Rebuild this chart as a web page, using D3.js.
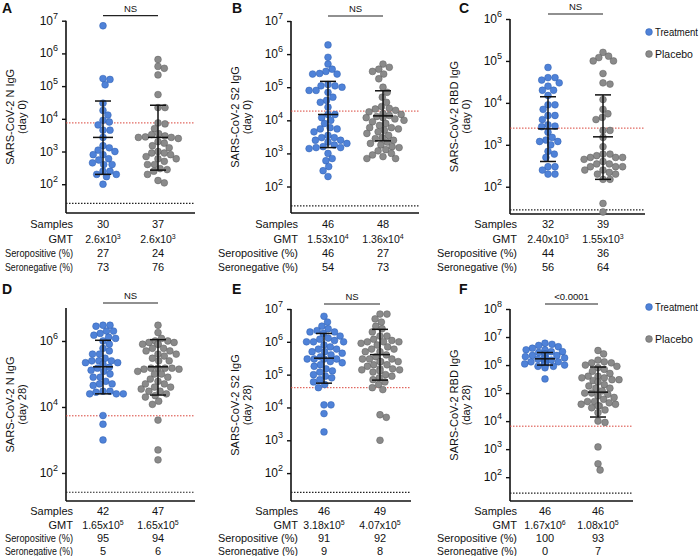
<!DOCTYPE html>
<html><head><meta charset="utf-8">
<script src="https://cdn.jsdelivr.net/npm/d3@7"></script>
<style>body{margin:0;background:#fff}text{font-family:"Liberation Sans",Arial,sans-serif;fill:#111}</style>
</head><body><svg id="c" width="699" height="556"></svg>
<script>
const rowLabels=["Samples","GMT","Seropositive (%)","Seronegative (%)"];
const letters=["A","B","C","D","E","F"];
const yTitles=[["SARS-CoV-2 N IgG","(day 0)"],["SARS-CoV-2 S2 IgG","(day 0)"],["SARS-CoV-2 RBD IgG","(day 0)"],["SARS-CoV-2 N IgG","(day 28)"],["SARS-CoV-2 S2 IgG","(day 28)"],["SARS-CoV-2 RBD IgG","(day 28)"]];
const sigLabels=["NS","NS","NS","NS","NS","<0.0001"];
const samples=[[30,37],[46,48],[32,39],[42,47],[46,49],[46,46]];
const gmt=[[["2.6x10","3"],["2.6x10","3"]],[["1.53x10","4"],["1.36x10","4"]],[["2.40x10","3"],["1.55x10","3"]],[["1.65x10","5"],["1.65x10","5"]],[["3.18x10","5"],["4.07x10","5"]],[["1.67x10","6"],["1.08x10","5"]]];
const seropos=[[27,24],[46,27],[44,36],[95,94],[91,92],[100,93]];
const seroneg=[[73,76],[54,73],[56,64],[5,6],[9,8],[0,7]];
const cutoffRed=[7.5e3,1.9e4,2.5e3,5.4e3,4e4,6.6e3];
const cutoffBlack=[26,26,28,26,26,27];
const tickExps=[[2,3,4,5,6,7],[2,3,4,5,6,7],[2,3,4,5,6],[2,4,6],[2,3,4,5,6,7],[2,3,4,5,6,7,8]];
const domains=[[10**1.12,1e7],[10**1.2,1e7],[10**1.35,1e6],[10**1.15,1e7],[10**1.15,1e7],[10**1.15,1e8]];
// [median, low, high]
const barsT=[[2.7e3,2e2,3.5e4],[1.5e4,1.5e3,1.5e5],[2.4e3,4e2,1.4e4],[1.65e5,2.5e4,1.05e6],[3.18e5,5.5e4,1.8e6],[1.67e6,1e6,2.8e6]];
const barsP=[[2.7e3,2.7e2,2.6e4],[1.36e4,2.4e3,7.8e4],[1.55e3,1.5e2,1.55e4],[1.65e5,2.3e4,1.1e6],[4.07e5,6.8e4,2.4e6],[1.08e5,1.4e4,8.5e5]];
const treatA=[7e6,1.7e5,1.6e5,1.1e5,3e4,1.8e4,1.3e4,9e3,8e3,6.5e3,4.5e3,4.5e3,2.7e3,1.5e3,1.3e3,1.1e3,1e3,8e2,8e2,6e2,5.5e2,4.5e2,4e2,4e2,2.5e2,2.5e2,2e2,1.7e2,2e2,1e2];
const placA=[6.5e5,4e5,3.5e5,2.2e5,5.5e4,2.2e4,2.2e4,7.5e3,7e3,5e3,3.5e3,3.3e3,3e3,2.8e3,2.7e3,2.7e3,2.5e3,2e3,1.8e3,1.5e3,1.3e3,1e3,9e2,9e2,8e2,7e2,6e2,6e2,5e2,4e2,4e2,3e2,2.8e2,2.5e2,2e2,1.3e2,1.1e2];
const treatB=[1.9e6,8e5,5e5,3.5e5,3e5,2.5e5,2.5e5,2.6e5,1.2e5,1.1e5,1e5,1.1e5,8e4,7e4,8e4,5e4,4e4,3.5e4,2.5e4,1.5e4,1.5e4,1.2e4,1e4,8e3,6e3,5.5e3,5.5e3,4.5e3,3.5e3,3e3,3e3,2.5e3,2.2e3,2e3,1.8e3,1.6e3,1.5e3,1.5e3,1.4e3,1e3,7e2,6e2,4e2,3e2,2e2,2.5e3];
const placB=[5e5,4e5,3.5e5,3e5,2.5e5,1.8e5,1e5,7e4,5e4,3.5e4,2.6e4,2.2e4,2e4,1.8e4,1.6e4,1.5e4,1.4e4,1.3e4,1.2e4,1.2e4,1.1e4,1e4,9e3,8e3,7e3,6e3,6e3,5.5e3,5e3,4.5e3,4e3,3.5e3,3e3,2.8e3,2.5e3,2.2e3,2e3,1.8e3,1.6e3,1.5e3,1.3e3,1.2e3,1e3,9e2,8e2,7e2,7e2,2.3e4];
const treatC=[7e4,4e4,4e4,3.5e4,3e4,2.5e4,2e4,2e4,1.5e4,9e3,9e3,7e3,5e3,5e3,4e3,3e3,2.8e3,2.7e3,2e3,1.5e3,1.3e3,1.2e3,1.2e3,1e3,7e2,6e2,5e2,3e2,3e2,2.5e2,2e2,2e2];
const placC=[1.6e5,1.3e5,1.2e5,1e5,1e5,5e4,3e4,2.8e4,1.2e4,7e3,5.5e3,4.5e3,4e3,2.2e3,2.2e3,1.5e3,9e2,6e2,6e2,5.5e2,5e2,5e2,5e2,4.5e2,4e2,3.5e2,3.5e2,3e2,3e2,3e2,2.5e2,2.5e2,2.2e2,2e2,2e2,1.5e2,1.5e2,40,25];
const treatD=[3e6,3e6,2.8e6,2e6,2e6,1.7e6,1.5e6,1.3e6,1.2e6,1e6,8e5,6e5,5e5,4e5,4e5,3e5,2.5e5,2.5e5,2.5e5,2.2e5,2.2e5,2e5,1.6e5,1.5e5,1.3e5,1.2e5,1e5,8e4,8e4,6e4,5e4,5e4,4.5e4,3e4,3e4,2.8e4,2.5e4,2.5e4,2.5e4,5.5e3,3e3,1e3];
const placD=[3e6,1.8e6,1.2e6,1e6,1e6,9e5,9e5,8e5,8e5,8e5,6e5,6e5,5e5,5e5,4e5,4e5,3.5e5,3e5,2.5e5,2.5e5,1.5e5,1.5e5,1.5e5,1.5e5,1.4e5,1.4e5,1.2e5,1e5,1e5,8e4,7e4,6e4,5e4,5e4,4e4,4e4,3.5e4,3e4,3e4,2.5e4,2.2e4,2e4,1.5e4,1.2e4,4e3,5e2,2.5e2];
const treatE=[6e6,4e6,3e6,2.5e6,2.2e6,2e6,2e6,1.8e6,1.5e6,1.3e6,1.2e6,1.1e6,1e6,1e6,1e6,8e5,7e5,6e5,6e5,5e5,5e5,4.5e5,4e5,3.5e5,3e5,3e5,3e5,3e5,2.5e5,2e5,1.8e5,1.5e5,1.3e5,1.2e5,1e5,9e4,8e4,7e4,6e4,5e4,4e4,1.2e4,1.2e4,6.5e3,1.8e3,2.3e5];
const placE=[7e6,7e6,5e6,4e6,3e6,2.5e6,2e6,1.5e6,1.2e6,1.1e6,1e6,1e6,1e6,9e5,8e5,7e5,6e5,6e5,5e5,5e5,4e5,3.5e5,3e5,3e5,3e5,2.5e5,2.5e5,2.5e5,2e5,2e5,1.8e5,1.5e5,1.5e5,1.4e5,1.4e5,1.3e5,1.2e5,1e5,9e4,8e4,7e4,6e4,5e4,4e4,3.5e4,6e3,5e3,1e3,1.5e6];
const treatF=[6e6,5.5e6,5e6,4.5e6,4e6,3.5e6,3.5e6,3e6,3e6,2.8e6,2.5e6,2.5e6,2.2e6,2.2e6,2e6,2e6,2e6,1.8e6,1.8e6,1.7e6,1.6e6,1.5e6,1.5e6,1.4e6,1.4e6,1.4e6,1.3e6,1.3e6,1.3e6,1.3e6,1.3e6,1.3e6,1.2e6,1.2e6,1.2e6,1.1e6,1.1e6,1.1e6,1e6,1e6,1e6,1e6,9e5,9e5,8e5,3.2e5];
const placF=[3.3e6,2.5e6,1.5e6,1.3e6,1.2e6,1.2e6,1e6,9e5,8e5,7e5,6e5,5e5,4e5,4e5,3.5e5,3.5e5,3e5,3e5,2.8e5,2.5e5,2e5,1.8e5,1.5e5,1.5e5,1.2e5,1e5,1e5,9e4,8e4,7e4,6e4,5e4,5e4,4.5e4,4e4,4e4,3.5e4,3.5e4,3e4,2.5e4,2e4,1e4,9e3,1.2e3,3e2,1.8e2];
const treatData=[treatA,treatB,treatC,treatD,treatE,treatF];
const placData=[placA,placB,placC,placD,placE,placF];

const geo=[
 {ax:66,x1:195,top:20.7,bot:213,c:[103,158]},
 {ax:291,x1:419,top:21,bot:213,c:[328,383]},
 {ax:510,x1:645,top:19,bot:214,c:[548,603]},
 {ax:66,x1:195,top:308,bot:501,c:[103,158]},
 {ax:291,x1:411,top:309,bot:501,c:[324,380]},
 {ax:510,x1:633,top:309,bot:501,c:[545,598]}];
const tableY=[[224,239,253,267],[224,239,253,267],[224,239,253,267],[511,525,538,551],[511,525,538,551],[511,525,538,551]];
const letterPos=[[2,13],[232,13],[459,13],[2,294],[232,294],[459,294]];
const colors={t:"#4f82d8",ts:"#2f5fb0",p:"#8a8a8a",ps:"#5e5e5e"};
const svg=d3.select("#c");
const R=3.4;
function swarm(vals,y,cx){
  const pts=vals.map(v=>({v,y:y(v)})).sort((a,b)=>a.y-b.y);
  const placed=[];
  for(const p of pts){
    let best=null;
    for(let k=0;k<60;k++){
      const off=(k%2?1:-1)*Math.ceil(k/2)*0.7;
      const x=cx+off;
      if(placed.every(q=>(q.x-x)**2+(q.y-p.y)**2>=(2*R*0.95)**2)){best=x;break;}
    }
    p.x=best==null?cx:best;placed.push(p);
  }
  return placed;
}
function fit(sel,maxW){const w=sel.node().getComputedTextLength();if(w>maxW)sel.attr("textLength",maxW).attr("lengthAdjust","spacingAndGlyphs");}
geo.forEach((g,i)=>{
  const [d0,d1]=domains[i];
  const y=d3.scaleLog().domain([d0,d1]).range([g.bot,g.top]);
  const G=svg.append("g");
  const axis=d3.axisLeft(y).tickValues(tickExps[i].map(e=>10**e)).tickSize(4).tickFormat("");
  const ag=G.append("g").attr("transform",`translate(${g.ax},0)`).call(axis);
  ag.select(".domain").attr("d",`M0,${g.top}V${g.bot}`).attr("stroke","#111").attr("stroke-width",1.6);
  ag.selectAll(".tick line").attr("stroke","#111").attr("stroke-width",1.4);
  tickExps[i].forEach(e=>{
    const t=G.append("text").attr("x",g.ax-8).attr("y",y(10**e)+4).attr("text-anchor","end").attr("font-size",12);
    t.append("tspan").text("10");
    t.append("tspan").attr("dy",-6).attr("font-size",9).text(e);
  });
  G.append("line").attr("x1",g.ax).attr("x2",g.x1).attr("y1",g.bot).attr("y2",g.bot).attr("stroke","#111").attr("stroke-width",1.6);
  G.append("line").attr("x1",g.ax).attr("x2",g.x1).attr("y1",y(cutoffRed[i])).attr("y2",y(cutoffRed[i])).attr("stroke","#d9443a").attr("stroke-width",1).attr("stroke-dasharray","1.5,1.5");
  G.append("line").attr("x1",g.ax).attr("x2",g.x1).attr("y1",y(cutoffBlack[i])).attr("y2",y(cutoffBlack[i])).attr("stroke","#222").attr("stroke-width",1.2).attr("stroke-dasharray","1.5,1.5");
  [[treatData[i],colors.t,colors.ts,g.c[0]],[placData[i],colors.p,colors.ps,g.c[1]]].forEach(([vals,f,s,cx])=>{
    G.append("g").selectAll("circle").data(swarm(vals,y,cx)).join("circle")
      .attr("cx",d=>d.x).attr("cy",d=>d.y).attr("r",R).attr("fill",f).attr("stroke",s).attr("stroke-width",0.5);
  });
  [[barsT[i],g.c[0]],[barsP[i],g.c[1]]].forEach(([b,cx])=>{
    G.append("line").attr("x1",cx).attr("x2",cx).attr("y1",y(b[1])).attr("y2",y(b[2])).attr("stroke","#111").attr("stroke-width",1.5);
    [[b[0],10],[b[1],8],[b[2],8]].forEach(([v,w])=>G.append("line").attr("x1",cx-w).attr("x2",cx+w).attr("y1",y(v)).attr("y2",y(v)).attr("stroke","#111").attr("stroke-width",1.5));
  });
  const sy=g.top-5;
  G.append("line").attr("x1",g.c[0]).attr("x2",g.c[1]).attr("y1",sy).attr("y2",sy).attr("stroke","#222").attr("stroke-width",1.2);
  G.append("text").attr("x",(g.c[0]+g.c[1])/2).attr("y",sy-4).attr("text-anchor","middle").attr("font-size",9.5).text(sigLabels[i]);
  G.append("text").attr("x",letterPos[i][0]).attr("y",letterPos[i][1]).attr("font-size",14).attr("font-weight","bold").text(letters[i]);
  const my=(g.top+g.bot)/2;
  const tt=G.append("text").attr("transform",`translate(${g.ax-52},${my}) rotate(-90)`).attr("text-anchor","middle").attr("font-size",11);
  tt.append("tspan").attr("x",0).attr("y",0).text(yTitles[i][0]);
  tt.append("tspan").attr("x",0).attr("y",12).text(yTitles[i][1]);
  const ty=tableY[i];
  rowLabels.forEach((l,r)=>{const t=G.append("text").attr("x",g.ax+7).attr("y",ty[r]+4).attr("text-anchor","end").attr("font-size",11).text(l);fit(t,i%3===0?68:80);});
  [0,1].forEach(k=>{
    const cx=g.c[k];
    G.append("text").attr("x",cx).attr("y",ty[0]+4).attr("text-anchor","middle").attr("font-size",11).text(samples[i][k]);
    const t=G.append("text").attr("x",cx).attr("y",ty[1]+4).attr("text-anchor","middle").attr("font-size",10.5);
    t.append("tspan").text(gmt[i][k][0]);t.append("tspan").attr("dy",-4).attr("font-size",7).text(gmt[i][k][1]);
    G.append("text").attr("x",cx).attr("y",ty[2]+4).attr("text-anchor","middle").attr("font-size",11).text(seropos[i][k]);
    G.append("text").attr("x",cx).attr("y",ty[3]+4).attr("text-anchor","middle").attr("font-size",11).text(seroneg[i][k]);
  });
});
[[32,54],[307,339]].forEach(([a,b])=>{
  [[a,"Treatment",colors.t,colors.ts],[b,"Placebo",colors.p,colors.ps]].forEach(([yy,l,f,s])=>{
    svg.append("circle").attr("cx",649).attr("cy",yy).attr("r",R).attr("fill",f).attr("stroke",s).attr("stroke-width",0.5);
    const t=svg.append("text").attr("x",655).attr("y",yy+4).attr("font-size",10.5).text(l);
    fit(t,43);
  });
});
</script></body></html>
